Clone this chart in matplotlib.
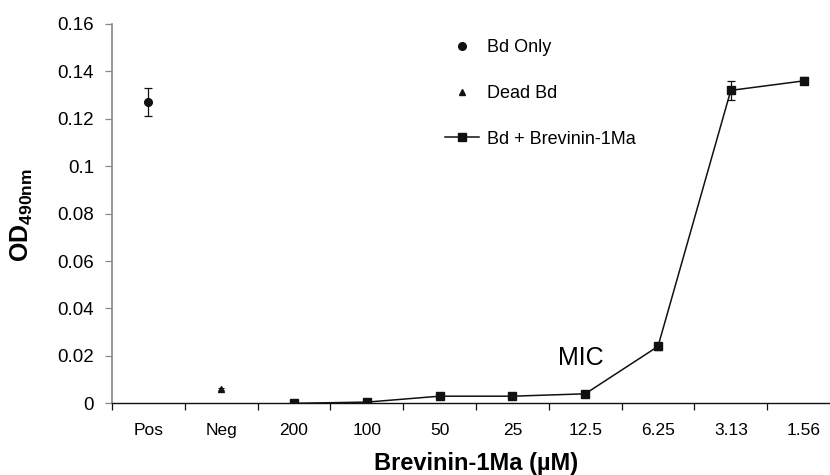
import matplotlib
matplotlib.use("Agg")
import matplotlib.pyplot as plt
import numpy as np

plt.rcParams['font.family'] = ['Liberation Sans', 'DejaVu Sans']
plt.rcParams['mathtext.fontset'] = 'custom'
plt.rcParams['mathtext.rm'] = 'Liberation Sans'
plt.rcParams['mathtext.bf'] = 'Liberation Sans:bold'

categories = ["Pos", "Neg", "200", "100", "50", "25", "12.5", "6.25", "3.13", "1.56"]
pos_value = [0.127]
pos_err = [0.006]
neg_value = [0.006]
neg_err = [0.0006]
series_labels = ["200", "100", "50", "25", "12.5", "6.25", "3.13", "1.56"]
series_values = [0.0, 0.0005, 0.003, 0.003, 0.004, 0.024, 0.132, 0.136]
series_err = [0.0004, 0.0005, 0.0006, 0.0006, 0.0006, 0.0015, 0.004, 0.0015]
yticks = [0, 0.02, 0.04, 0.06, 0.08, 0.1, 0.12, 0.14, 0.16]
ytick_labels = ["0", "0.02", "0.04", "0.06", "0.08", "0.1", "0.12", "0.14", "0.16"]

fig = plt.figure(figsize=(8.3, 4.75), dpi=100)
ax = fig.add_axes([112/830, 1-403.3/475, 728/830, (403.3-24)/475])

xpos = {c: i for i, c in enumerate(categories)}
h1 = ax.errorbar([xpos["Pos"]], pos_value, yerr=pos_err, fmt='o', color='#111111',
                 markersize=5.5, capsize=3, elinewidth=0.9, capthick=0.9, label="Bd Only")
h2 = ax.errorbar([xpos["Neg"]], neg_value, yerr=neg_err, fmt='^', color='#111111',
                 markersize=4.5, capsize=2, elinewidth=0.8, capthick=0.8, label="Dead Bd")
sx = [xpos[c] for c in series_labels]
h3 = ax.errorbar(sx, series_values, yerr=series_err, fmt='-s', color='#111111',
                 markersize=5.5, linewidth=1.1, capsize=3, elinewidth=0.9, capthick=0.9,
                 label="Bd + Brevinin-1Ma")

ax.set_xlim(-0.5, len(categories) - 0.5)
ax.set_ylim(0, 0.16)
ax.set_yticks(yticks)
ax.set_yticklabels(ytick_labels, fontsize=13.5)
ax.set_xticks(np.arange(len(categories)))
ax.set_xticklabels(categories, fontsize=12.5)
ax.tick_params(axis='x', length=0, pad=14)
ax.set_xticks(np.arange(len(categories)) - 0.5, minor=True)
ax.tick_params(axis='x', which='minor', length=5, width=0.9, direction='out', color='#111111')
ax.tick_params(axis='y', length=5, width=0.9, direction='out', color='#888888', pad=8)

for s in ['top', 'right']:
    ax.spines[s].set_visible(False)
ax.spines['left'].set_color('#888888')
ax.spines['left'].set_linewidth(1.2)
ax.spines['bottom'].set_color('#111111')
ax.spines['bottom'].set_linewidth(1.0)

ax.set_xlabel("Brevinin-1Ma (µM)", fontsize=17, fontweight='bold', labelpad=10)
fig.text(22/830, 1-215/475, r'$\mathbf{OD}_{\mathbf{490nm}}$', rotation=90,
         fontsize=18, ha='center', va='center')

ax.text(5.63, 0.0162, "MIC", fontsize=18, ha='left', va='baseline')

handles = [h1, h2, h3]
labels = ["Bd Only", "Dead Bd", "Bd + Brevinin-1Ma"]
leg = fig.legend([h[0] for h in handles], labels, loc='upper left',
                 bbox_to_anchor=(445/830, 1-39/475), frameon=False, fontsize=13,
                 handlelength=1.9, handletextpad=0.4, labelspacing=1.6, borderpad=0,
                 borderaxespad=0)

fig.savefig("out.png", dpi=100)
